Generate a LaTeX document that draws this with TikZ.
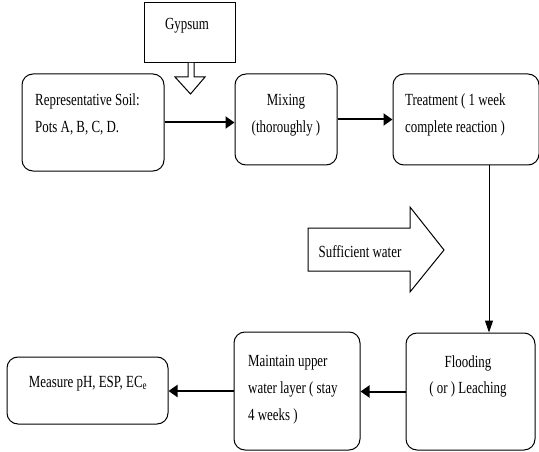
\documentclass[tikz,border=0pt]{standalone}
\usepackage{fontspec}
\setmainfont[FakeStretch=0.76]{Liberation Serif}
\usetikzlibrary{arrows.meta}
\begin{document}
\begin{tikzpicture}[x=1pt,y=-1pt,
  box/.style={draw,line width=1pt,rounded corners=11pt,inner sep=0pt},
  plainbox/.style={draw,line width=1pt,inner sep=0pt},
  txt/.style={inner sep=0pt,font=\fontsize{17}{27}\selectfont},
  arr/.style={line width=2pt,-{Triangle[length=9pt,width=12pt]}},
  thin arr/.style={line width=1pt,-{Triangle[length=12pt,width=8pt]}},
  hollow/.style={draw,line width=1pt,fill=white,line join=miter}]
\useasboundingbox (0,0) rectangle (539,452);
% boxes
\node[plainbox,minimum width=91pt,minimum height=60pt] (gyp) at (189.8,33) {};
\node[box,minimum width=142pt,minimum height=97pt] (soil) at (93,122.5) {};
\node[box,minimum width=102pt,minimum height=91pt] (mix) at (286,119.5) {};
\node[box,minimum width=146pt,minimum height=91pt] (treat) at (466,119.5) {};
\node[box,minimum width=129pt,minimum height=117pt] (flood) at (470.5,391.5) {};
\node[box,minimum width=126pt,minimum height=118pt] (maint) at (297,391) {};
\node[box,minimum width=161pt,minimum height=67pt] (meas) at (87.5,390.5) {};
% texts
\node[txt,anchor=base] (tg) at (187,30) {Gypsum};
\node[txt,anchor=base west] (ts1) at (35,106) {Representative Soil:};
\node[txt,anchor=base west] (ts2) at (35,133) {Pots A, B, C, D.};
\node[txt,anchor=base] (tm1) at (286,106) {Mixing};
\node[txt,anchor=base] (tm2) at (286,133) {(thoroughly )};
\node[txt,anchor=base west] (tt1) at (405,106) {Treatment ( 1 week};
\node[txt,anchor=base west] (tt2) at (405,133) {complete reaction )};
\node[txt,anchor=base] (tf1) at (468,367) {Flooding};
\node[txt,anchor=base] (tf2) at (468,393) {( or ) Leaching};
\node[txt,anchor=base west] (tw1) at (248,366) {Maintain upper};
\node[txt,anchor=base west] (tw2) at (248,393) {water layer ( stay};
\node[txt,anchor=base west] (tw3) at (248,420) {4 weeks )};
\node[txt,anchor=base] (tme) at (88,387) {Measure pH, ESP, EC\textsubscript{e}};
% hollow arrows
\draw[hollow] (188,63) -- (188,77) -- (175,77) -- (190.5,94) -- (205,77) -- (194,77) -- (194,63);
\draw[hollow] (308,228) -- (410,228) -- (410,207) -- (444,250) -- (410,292) -- (410,271) -- (308,271) -- cycle;
\node[txt,anchor=base] (tw) at (360,257) {Sufficient water};
% connectors
\draw[arr] (soil.east) -- (soil.east -| mix.west);
\draw[arr] (mix.east) -- (treat.west);
\coordinate (vx) at (489,0);
\draw[thin arr] (treat.south -| vx) -- (flood.north -| vx);
\draw[arr] (flood.west) -- (flood.west -| maint.east);
\draw[arr] (maint.west) -- (maint.west -| meas.east);
\end{tikzpicture}
\end{document}
